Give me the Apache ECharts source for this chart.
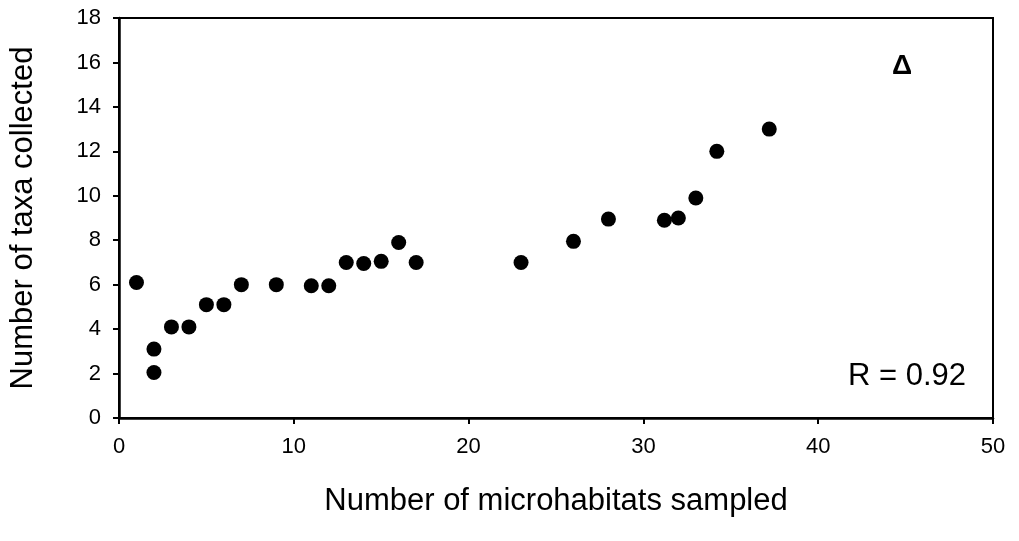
<!DOCTYPE html>
<html>
<head>
<meta charset="utf-8">
<script src="https://cdn.jsdelivr.net/npm/echarts@6/dist/echarts.min.js"></script>
<style>
  html, body { margin: 0; padding: 0; background: #fff; }
  #chart { width: 1019px; height: 541px; }
</style>
</head>
<body>
<div id="chart"></div>
<script>
// microhabitats sampled vs taxa collected
const microhabitats = [1, 2, 2, 3, 4, 5, 6, 7, 9, 11, 12, 13, 14, 15, 16, 17, 23, 26, 28, 31.2, 32, 33, 34.2, 37.2];
const taxa = [6.1, 3.1, 2.05, 4.1, 4.1, 5.1, 5.1, 6.0, 6.0, 5.95, 5.95, 7.0, 6.95, 7.05, 7.9, 7.0, 7.0, 7.95, 8.95, 8.9, 9.0, 9.9, 12.0, 13.0];
const xTicks = [0, 10, 20, 30, 40, 50];
const yTicks = [0, 2, 4, 6, 8, 10, 12, 14, 16, 18];

const points = microhabitats.map((x, i) => [x, taxa[i]]);

const chart = echarts.init(document.getElementById('chart'));
const font = 'Liberation Sans, Arial, sans-serif';

chart.setOption({
  animation: false,
  backgroundColor: '#fff',
  grid: {
    left: 118, right: 26, top: 18, bottom: 123,
    show: true, borderColor: '#000', borderWidth: 2
  },
  xAxis: {
    type: 'value',
    min: xTicks[0], max: xTicks[xTicks.length - 1], interval: 10,
    name: 'Number of microhabitats sampled',
    nameLocation: 'middle', nameGap: 68,
    nameTextStyle: { fontFamily: font, fontSize: 31, color: '#000' },
    axisLine: { show: true, lineStyle: { color: '#000', width: 2.5 } },
    axisTick: { show: true, length: 6, inside: false, lineStyle: { color: '#000', width: 2 } },
    axisLabel: { fontFamily: font, fontSize: 22, color: '#000', margin: 18 },
    splitLine: { show: false }
  },
  yAxis: {
    type: 'value',
    min: yTicks[0], max: yTicks[yTicks.length - 1], interval: 2,
    name: 'Number of taxa collected',
    nameLocation: 'middle', nameGap: 80,
    nameTextStyle: { fontFamily: font, fontSize: 31, color: '#000' },
    axisLine: { show: true, lineStyle: { color: '#000', width: 2.5 } },
    axisTick: { show: true, length: 6, lineStyle: { color: '#000', width: 2 } },
    axisLabel: { fontFamily: font, fontSize: 22, color: '#000', margin: 18 },
    splitLine: { show: false }
  },
  graphic: [
    {
      type: 'text', left: 892, top: 52,
      style: { text: 'Δ', fontFamily: font, fontSize: 28, fontWeight: 'bold', fill: '#000' }
    },
    {
      type: 'text', left: 848, top: 361,
      style: { text: 'R = 0.92', fontFamily: font, fontSize: 31, fill: '#000' }
    }
  ],
  series: [{
    type: 'scatter',
    data: points,
    symbol: 'circle',
    symbolSize: 15,
    itemStyle: { color: '#000', opacity: 1 }
  }]
});
</script>
</body>
</html>
